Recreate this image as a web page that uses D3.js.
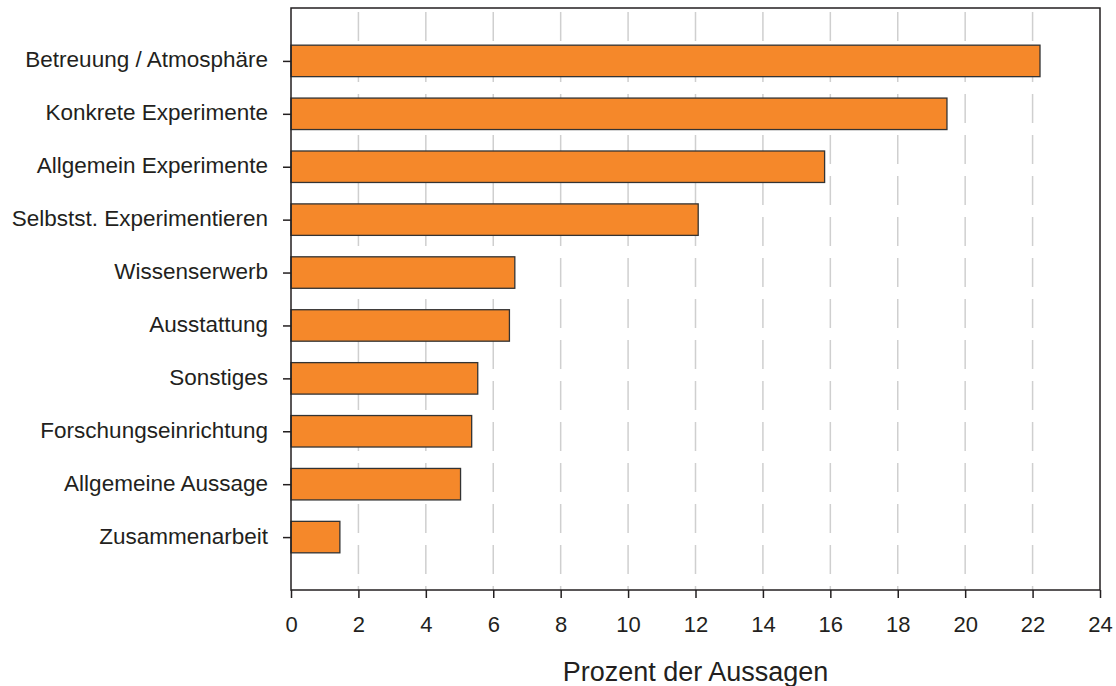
<!DOCTYPE html>
<html>
<head>
<meta charset="utf-8">
<script src="https://cdn.jsdelivr.net/npm/d3@7"></script>
<style>
  body { margin: 0; background: #fff; }
  svg { display: block; }
  text { font-family: "Liberation Sans", Arial, Helvetica, sans-serif; fill: #231f20; }
</style>
</head>
<body>
<svg id="chart" width="1116" height="686"></svg>
<script>
const categories = [
  "Betreuung / Atmosphäre",
  "Konkrete Experimente",
  "Allgemein Experimente",
  "Selbstst. Experimentieren",
  "Wissenserwerb",
  "Ausstattung",
  "Sonstiges",
  "Forschungseinrichtung",
  "Allgemeine Aussage",
  "Zusammenarbeit"
];
const values = [22.22, 19.46, 15.83, 12.08, 6.64, 6.48, 5.54, 5.36, 5.03, 1.45];
const xTicks = [0, 2, 4, 6, 8, 10, 12, 14, 16, 18, 20, 22, 24];
const xTitle = "Prozent der Aussagen";

const svg = d3.select("#chart");
const mLeft = 291, mRight = 1100, mTop = 8, mBottom = 590;
const fontFam = '"Liberation Sans", Arial, sans-serif';

const x = d3.scaleLinear().domain([0, 24]).range([mLeft, mRight]);
const y = d3.scalePoint().domain(categories).range([mTop, mBottom]).padding(1);
const barH = y.step() * 0.595;

// gridlines
svg.append("g")
  .selectAll("line")
  .data(xTicks.filter(t => t > 0 && t < 24))
  .join("line")
  .attr("x1", d => x(d)).attr("x2", d => x(d))
  .attr("y1", mTop).attr("y2", mBottom)
  .attr("stroke", "#cfcfcf")
  .attr("stroke-width", 1.5)
  .attr("stroke-dasharray", "29,12")
  .attr("stroke-dashoffset", -4);

// bars
svg.append("g")
  .selectAll("rect")
  .data(categories)
  .join("rect")
  .attr("x", x(0))
  .attr("y", d => y(d) - barH / 2)
  .attr("width", (d, i) => x(values[i]) - x(0))
  .attr("height", barH)
  .attr("fill", "#f5882a")
  .attr("stroke", "#333")
  .attr("stroke-width", 1.3);

// frame
svg.append("rect")
  .attr("x", mLeft).attr("y", mTop)
  .attr("width", mRight - mLeft).attr("height", mBottom - mTop)
  .attr("fill", "none")
  .attr("stroke", "#231f20")
  .attr("stroke-width", 1.5);

// x axis
const xAxis = svg.append("g")
  .attr("transform", `translate(0,${mBottom})`)
  .call(d3.axisBottom(x).tickValues(xTicks).tickSize(8).tickPadding(18).tickFormat(d3.format("d")));
xAxis.select(".domain").remove();
xAxis.selectAll("line").attr("stroke", "#231f20").attr("stroke-width", 1.5);
xAxis.selectAll("text").attr("font-size", 22).attr("fill", "#231f20")
  .style("font-family", fontFam);

// y axis
const yAxis = svg.append("g")
  .attr("transform", `translate(${mLeft},0)`)
  .call(d3.axisLeft(y).tickSize(8).tickPadding(15));
yAxis.select(".domain").remove();
yAxis.selectAll("line").attr("stroke", "#231f20").attr("stroke-width", 1.5);
yAxis.selectAll("text").attr("font-size", 22.5).attr("dy", "0.27em").attr("fill", "#231f20")
  .style("font-family", fontFam);

// title
svg.append("text")
  .attr("x", (mLeft + mRight) / 2)
  .attr("y", 681)
  .attr("text-anchor", "middle")
  .attr("font-size", 27)
  .style("font-family", fontFam)
  .text(xTitle);
</script>
</body>
</html>
